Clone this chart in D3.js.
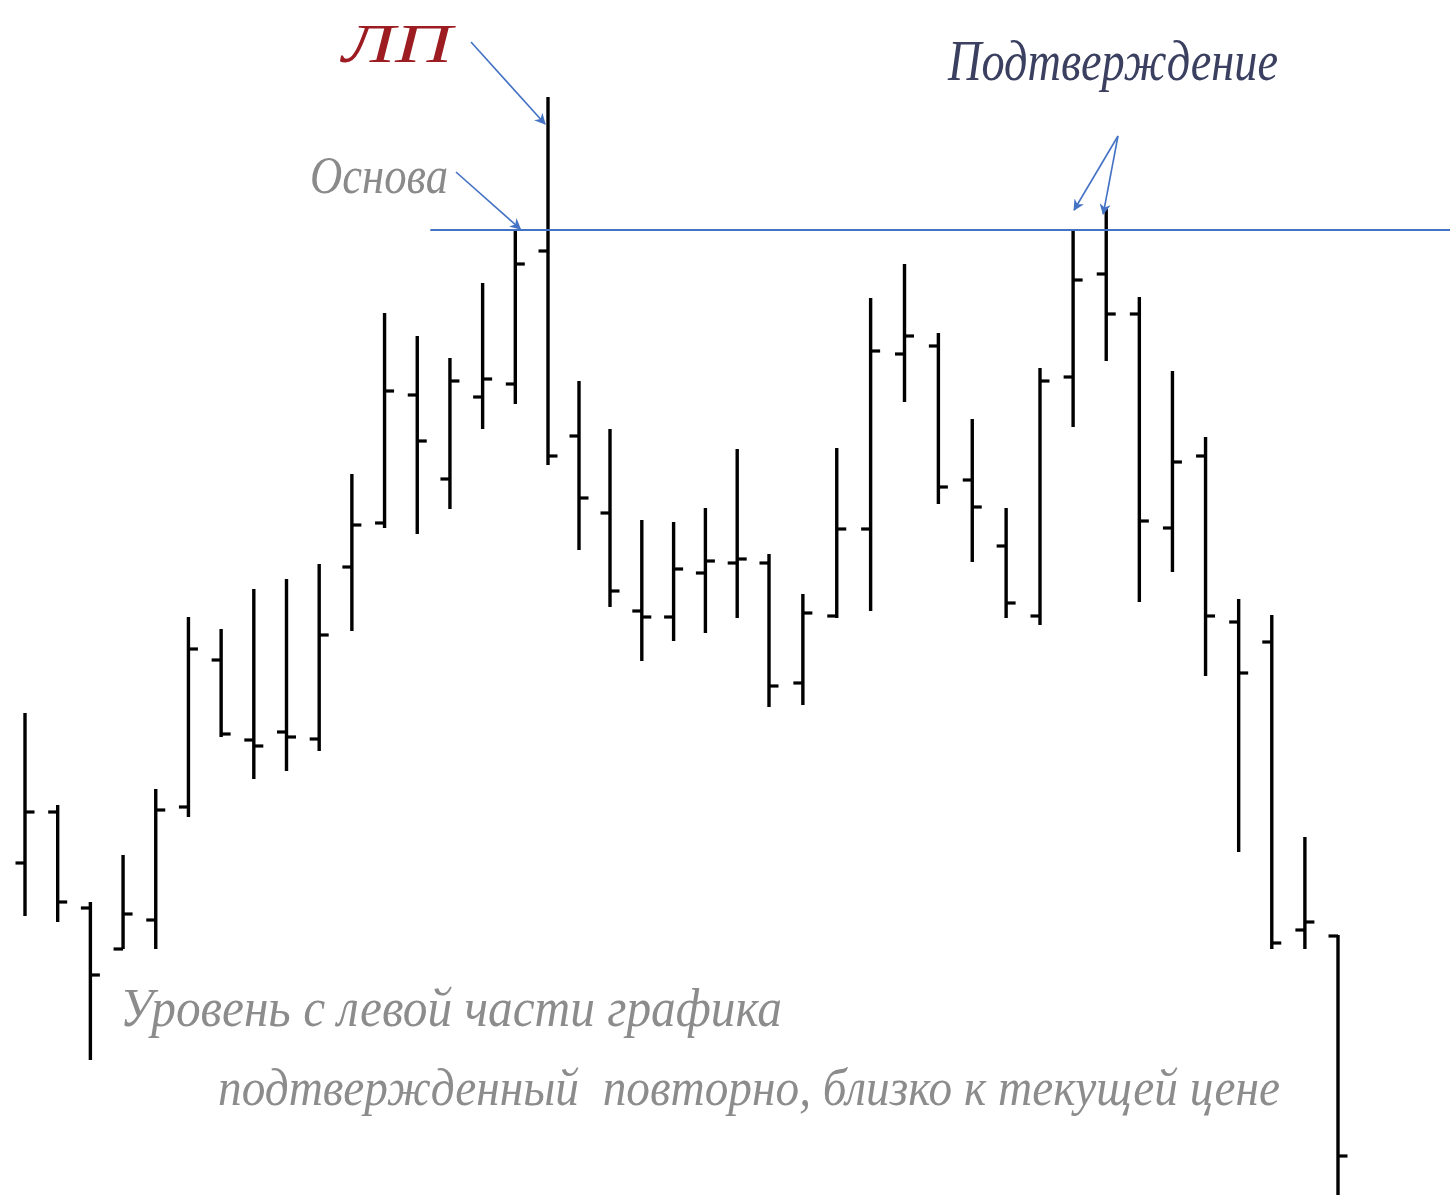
<!DOCTYPE html>
<html>
<head>
<meta charset="utf-8">
<script src="https://cdn.jsdelivr.net/npm/d3@7"></script>
<style>
  body { margin: 0; background: #fff; }
  svg { display: block; }
</style>
</head>
<body>
<div id="graph"></div>
<script>
// OHLC bars (arbitrary price units)
const opens  = [33.7, 38.8, 29.2, 25.1, 28.0, 39.3, 54.0, 46.0, 46.8, 46.1,
                63.3, 67.7, 80.5, 72.1, 80.3, 81.6, 94.9, 76.4, 68.7, 58.9,
                58.3, 62.7, 63.7, 63.7, 51.7, 58.4, 67.1, 84.6, 85.4, 72.0,
                65.4, 58.4, 82.3, 92.6, 88.6, 67.2, 74.4, 57.8, 55.8, 27.0, 26.4]
const highs  = [48.7, 39.5, 29.8, 34.5, 41.1, 58.3, 57.1, 61.1, 62.1, 63.6,
                72.6, 88.7, 86.4, 84.2, 91.7, 97.0, 110.3, 81.9, 77.1, 68.0,
                67.8, 69.2, 75.1, 64.6, 60.6, 75.2, 90.2, 93.6, 86.7, 78.1,
                69.2, 83.2, 96.9, 99.1, 90.3, 82.9, 76.3, 60.1, 58.5, 36.3, 26.5]
const lows   = [28.4, 27.8, 14.0, 25.1, 25.1, 38.3, 46.3, 42.1, 42.9, 44.9,
                56.9, 67.2, 66.6, 69.1, 77.1, 79.6, 73.5, 65.0, 59.3, 53.9,
                55.9, 56.7, 58.2, 49.3, 49.5, 58.2, 58.9, 79.8, 69.6, 63.8,
                58.2, 57.5, 77.3, 83.9, 59.8, 62.8, 52.4, 34.8, 25.1, 25.1, 0.5]
const closes = [38.8, 29.8, 22.5, 28.6, 39.0, 55.1, 46.6, 45.4, 46.3, 56.5,
                67.5, 80.9, 75.9, 81.9, 82.1, 93.6, 74.4, 70.2, 60.9, 58.3,
                63.1, 63.9, 64.1, 51.4, 58.7, 67.1, 84.9, 86.4, 71.3, 69.3,
                59.7, 81.9, 92.0, 88.6, 67.9, 73.8, 58.4, 52.7, 25.7, 27.8, 4.4]

const level = 97.0
const lpBar = 16        // "ЛП" - false breakout bar
const baseBar = 15      // "Основа"
const confirmBars = [32, 33]

const width = 1450;
const height = 1195;

const svg = d3.select("#graph")
              .append("svg")
              .attr("width", width)
              .attr("height", height);

// bars are not quite evenly spaced in the picture
const xScale = d3.scaleLinear()
                 .domain([0, 16, 18, 23, 31, 40])
                 .range([25, 548, 610, 769, 1040, 1338]);

const yScale = d3.scaleLinear()
                 .domain([0, 120])
                 .range([1200, 0]);

const tick = 9.5;
const blue = "#4472c4";

// arrow head
svg.append("defs")
   .append("marker")
   .attr("id", "arr")
   .attr("viewBox", "0 0 10 10")
   .attr("refX", 9)
   .attr("refY", 5)
   .attr("markerWidth", 7)
   .attr("markerHeight", 7)
   .attr("orient", "auto")
   .append("path")
   .attr("d", "M0,0 L10,5 L0,10 L3,5 Z")
   .attr("fill", blue);

const bars = svg.selectAll("g.bar")
                .data(opens)
                .enter()
                .append("g")
                .attr("class", "bar")
                .attr("stroke", "#000")
                .attr("stroke-width", 3.4);

bars.append("line")
    .attr("x1", (d, i) => xScale(i))
    .attr("x2", (d, i) => xScale(i))
    .attr("y1", (d, i) => yScale(highs[i]))
    .attr("y2", (d, i) => yScale(lows[i]));

bars.append("line")
    .attr("stroke-width", 3.2)
    .attr("x1", (d, i) => xScale(i) - tick)
    .attr("x2", (d, i) => xScale(i))
    .attr("y1", (d) => yScale(d))
    .attr("y2", (d) => yScale(d));

bars.append("line")
    .attr("stroke-width", 3.2)
    .attr("x1", (d, i) => xScale(i))
    .attr("x2", (d, i) => xScale(i) + tick)
    .attr("y1", (d, i) => yScale(closes[i]))
    .attr("y2", (d, i) => yScale(closes[i]));

// level line
svg.append("line")
   .attr("x1", xScale(12.4))
   .attr("x2", width)
   .attr("y1", yScale(level))
   .attr("y2", yScale(level))
   .attr("stroke", blue)
   .attr("stroke-width", 1.8);

// arrows
const arrows = [
  [471, 42, xScale(lpBar) - 3, yScale(107.6)],
  [456, 172, xScale(baseBar) + 5, yScale(level) - 1],
  [1118, 136, xScale(confirmBars[0]) + 1, yScale(99.0)],
  [1118, 136, xScale(confirmBars[1]) - 3, yScale(98.6)]
];

svg.selectAll("line.arrow")
   .data(arrows)
   .enter()
   .append("line")
   .attr("class", "arrow")
   .attr("x1", d => d[0])
   .attr("y1", d => d[1])
   .attr("x2", d => d[2])
   .attr("y2", d => d[3])
   .attr("stroke", blue)
   .attr("stroke-width", 1.6)
   .attr("marker-end", "url(#arr)");

// labels
const labels = [
  {t: "ЛП", x: 342, y: 62, size: 54, len: 110, c: "#9c1c22"},
  {t: "Основа", x: 310, y: 193, size: 52, len: 138, c: "#8a8a8a"},
  {t: "Подтверждение", x: 948, y: 80, size: 56, len: 330, c: "#3b4060"},
  {t: "Уровень с левой части графика", x: 120, y: 1026, size: 54, len: 662, c: "#8c8c8c"},
  {t: "подтвержденный  повторно, близко к текущей цене", x: 218, y: 1105, size: 52, len: 1062, c: "#8c8c8c"}
];

svg.selectAll("text.lbl")
   .data(labels)
   .enter()
   .append("text")
   .attr("class", "lbl")
   .attr("x", d => d.x)
   .attr("y", d => d.y)
   .attr("textLength", d => d.len)
   .attr("lengthAdjust", "spacingAndGlyphs")
   .style("font-family", "'Liberation Serif', serif")
   .style("font-style", "italic")
   .style("font-size", d => d.size + "px")
   .style("fill", d => d.c)
   .style("white-space", "pre")
   .text(d => d.t);
</script>
</body>
</html>
